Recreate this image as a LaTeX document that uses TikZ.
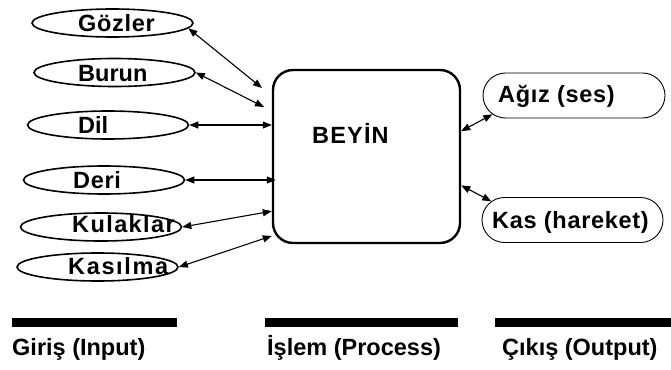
\documentclass[tikz,border=0pt]{standalone}
\usepackage{fontspec}
\setmainfont{Liberation Sans}
\usetikzlibrary{arrows.meta,shapes.geometric,shapes.misc}

% letter-spaced setting of the label font
\newcommand{\spaced}[2]{{\addfontfeature{LetterSpace=#1}#2}}

\tikzset{
  txt/.style={font=\bfseries\fontsize{23.5}{28}\selectfont, inner sep=0pt, anchor=base west},
  organ/.style={ellipse, draw, line width=1.6pt, minimum width=161pt, minimum height=28pt, inner sep=0pt},
  brain/.style={rectangle, draw, line width=2.4pt, rounded corners=20pt, minimum width=187pt, minimum height=173pt, inner sep=0pt},
  outbox/.style={rounded rectangle, draw, line width=0.9pt, minimum height=45pt, inner sep=0pt},
  link/.style={line width=1.1pt, {Triangle[length=9pt,width=7pt]}-{Triangle[length=9pt,width=7pt]}},
  bar/.style={fill=black, draw=none}
}

\begin{document}
\begin{tikzpicture}[x=1pt, y=-1pt]
  \useasboundingbox[fill=white] (0,0) rectangle (671,369);

  % sense organs
  \node[organ] (gozler)   at (112.5,23)  {};
  \node[organ] (burun)    at (114.5,72.5) {};
  \node[organ] (dil)      at (108,125)   {};
  \node[organ] (deri)     at (104,180)   {};
  \node[organ] (kulaklar) at (101,227)   {};
  \node[organ] (kasilma)  at (97.5,267)  {};

  \node[txt] (tgozler)   at (78,32)    {\spaced{3}{Gözler}};
  \node[txt] (tburun)    at (78,81.5)  {Burun};
  \node[txt] (tdil)      at (78,133.5) {Dil};
  \node[txt] (tderi)     at (73,188.5) {\spaced{3}{Deri}};
  \node[txt] (tkulaklar) at (72,232)   {\spaced{6}{Kulaklar}};
  \node[txt] (tkasilma)  at (68,274)   {\spaced{7}{Kasılma}};

  % brain
  \node[brain] (beyin) at (366.5,156.5) {};
  \node[txt] (tbeyin) at (312,143) {\spaced{5}{BEYİN}};

  % outputs
  \node[outbox, minimum width=182pt] (agiz) at (574,95.5) {};
  \node[outbox, minimum width=181pt] (kas)  at (572.5,220) {};
  \node[txt] (tagiz) at (498,102) {\spaced{3}{Ağız (ses)}};
  \node[txt] (tkas)  at (492,228) {\spaced{3}{Kas (hareket)}};

  % free ends of the two upper input arrows
  \coordinate (gin) at (262,88);
  \coordinate (bin) at (264,107);

  % input connectors
  \draw[link] (gozler.-4) -- (gin);
  \draw[link] (burun.east) -- (bin);
  \draw[link] (dil.east) -- (dil.east -| beyin.west);
  \draw[link] (deri.east) -- ([xshift=4pt]deri.east -| beyin.west);
  \draw[link] (kulaklar.east) -- (beyin.-150.2);
  \draw[link] (kasilma.east) -- (beyin.-140.7);

  % output connectors
  \draw[link] (beyin.15.8) -- (agiz.-167);
  \draw[link] (beyin.-17) -- (kas.167);

  % column bars and captions
  \fill[bar] (12,318) rectangle (177,327);
  \fill[bar] (265,318) rectangle (458,327);
  \fill[bar] (495,318) rectangle (671,327);
  \node[txt] (giris) at (12,355)  {Giriş (Input)};
  \node[txt] (islem) at (267,355) {İşlem (Process)};
  \node[txt] (cikis) at (502,355) {Çıkış (Output)};
\end{tikzpicture}
\end{document}
